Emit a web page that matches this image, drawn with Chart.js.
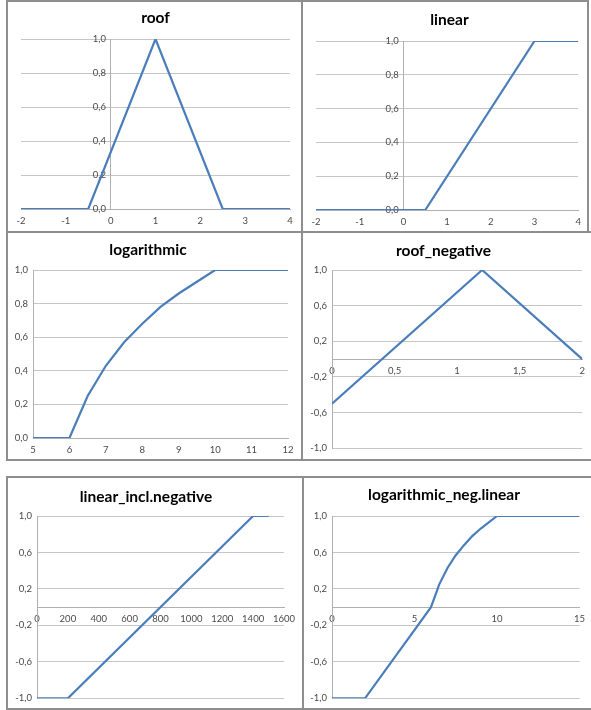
<!DOCTYPE html>
<html>
<head>
<meta charset="utf-8">
<script src="https://cdn.jsdelivr.net/npm/chart.js@4.4.1/dist/chart.umd.min.js"></script>
<style>
html,body{margin:0;padding:0;background:#fff;width:591px;height:710px;overflow:hidden;position:relative;}
canvas{position:absolute;display:block;}
.ln{position:absolute;background:#8e8e8e;}
</style>
</head>
<body>
<canvas id="c1" width="292" height="231" style="left:8px;top:1px"></canvas>
<canvas id="c2" width="283" height="231" style="left:304px;top:1px"></canvas>
<canvas id="c3" width="294" height="226" style="left:8px;top:233px"></canvas>
<canvas id="c4" width="287" height="226" style="left:304px;top:233px"></canvas>
<canvas id="c5" width="295" height="231" style="left:8px;top:478px"></canvas>
<canvas id="c6" width="287" height="231" style="left:304px;top:478px"></canvas>

<div class="ln" style="left:6px;top:0;width:2px;height:461px"></div>
<div class="ln" style="left:6px;top:477px;width:2px;height:233px"></div>
<div class="ln" style="left:301px;top:0;width:2px;height:461px"></div>
<div class="ln" style="left:302px;top:477px;width:2px;height:233px"></div>
<div class="ln" style="left:587px;top:0;width:1.5px;height:233px"></div>
<div class="ln" style="left:6px;top:0;width:583px;height:1.5px"></div>
<div class="ln" style="left:6px;top:231px;width:585px;height:1.5px"></div>
<div class="ln" style="left:6px;top:459px;width:585px;height:1.5px"></div>
<div class="ln" style="left:6px;top:476px;width:585px;height:1.5px"></div>
<div class="ln" style="left:6px;top:708px;width:585px;height:2px"></div>

<script>
// ---- data ----
const roofX = [-2, -0.5, 1, 2.5, 4];
const roofY = [0, 0, 1, 0, 0];

const linearX = [-2, 0.5, 3, 4];
const linearY = [0, 0, 1, 1];

const logX = [5, 6, 6.5, 7, 7.5, 8, 8.5, 9, 9.5, 10, 11, 12];
const logY = [0, 0, 0.25, 0.43, 0.57, 0.68, 0.78, 0.86, 0.93, 1, 1, 1];

const roofNegX = [0, 1.2, 2];
const roofNegY = [-0.5, 1, 0];

const linNegX = [0, 200, 1400, 1500];
const linNegY = [-1, -1, 1, 1];

const logNegX = [0, 2, 6, 6.5, 7, 7.5, 8, 8.5, 9, 9.5, 10, 15];
const logNegY = [-1, -1, 0, 0.25, 0.43, 0.57, 0.68, 0.78, 0.86, 0.93, 1, 1];

// ---- tick labels ----
const ticksX1 = [-2, -1, 0, 1, 2, 3, 4];
const ticksY01 = [0, 0.2, 0.4, 0.6, 0.8, 1];
const ticksX3 = [5, 6, 7, 8, 9, 10, 11, 12];
const ticksX4 = [0, 0.5, 1, 1.5, 2];
const ticksYneg = [-1, -0.6, -0.2, 0.2, 0.6, 1];
const ticksX5 = [0, 200, 400, 600, 800, 1000, 1200, 1400, 1600];
const ticksX6 = [0, 5, 10, 15];

const titles = ['roof', 'linear', 'logarithmic', 'roof_negative', 'linear_incl.negative', 'logarithmic_neg.linear'];

// ---- styles ----
const LINE = '#4a7ebb';
const GRID = '#c6c6c6';
const AXIS = '#b0b0b0';
const TICKC = '#4a4a4a';
const TICKFONT = {family: 'Lato, "Liberation Sans", sans-serif', size: 9.5};
const TITLEFONT = {family: 'Lato, "Liberation Sans", sans-serif', size: 15.5, weight: 'bold', lineHeight: 1.2};

const fmtY = v => v.toFixed(1).replace('.', ',');
const fmtX = v => String(Math.round(v * 100) / 100).replace('.', ',');

function pts(xs, ys) { return xs.map((x, i) => ({x: x, y: ys[i]})); }
function setTicks(arr) { return function (s) { s.ticks = arr.map(v => ({value: v})); }; }

// mode 'A': y axis at x=0, x axis bottom; 'B': both normal; 'C': y left, x axis at y=0
function make(id, o) {
  const cv = document.getElementById(id);
  const W = cv.width, H = cv.height;
  const th = TITLEFONT.size * TITLEFONT.lineHeight;
  const xScale = {
    type: 'linear', min: o.xMin, max: o.xMax,
    afterBuildTicks: setTicks(o.xt),
    grid: {display: false, drawTicks: false},
    border: {display: true, color: AXIS, width: 1},
    ticks: {font: TICKFONT, color: TICKC, padding: 6, maxRotation: 0, autoSkip: false, callback: v => fmtX(v)}
  };
  const yScale = {
    type: 'linear', min: o.yMin, max: o.yMax,
    afterBuildTicks: setTicks(o.yt),
    grid: {display: true, color: GRID, lineWidth: 1, drawTicks: false},
    border: {display: true, color: AXIS, width: 1},
    ticks: {font: TICKFONT, color: TICKC, padding: 5, autoSkip: false, callback: v => fmtY(v)}
  };
  let pad = {left: 0, right: W - o.r, top: 0, bottom: 0};
  if (o.mode === 'A') {
    yScale.position = {x: 0};
    yScale.ticks.callback = v => fmtY(v) + '\u2002';
    xScale.position = 'bottom';
    xScale.afterFit = s => { s.height = H - o.b; };
    pad.left = o.l;
  } else if (o.mode === 'B') {
    yScale.position = 'left';
    yScale.afterFit = s => { s.width = o.l; };
    xScale.position = 'bottom';
    xScale.afterFit = s => { s.height = H - o.b; };
  } else {
    yScale.position = 'left';
    yScale.afterFit = s => { s.width = o.l; };
    xScale.position = {y: 0};
    pad.bottom = H - o.b;
  }
  new Chart(cv, {
    type: 'line',
    data: {datasets: [{data: pts(o.xs, o.ys), borderColor: LINE, borderWidth: 2.2, pointRadius: 0, tension: 0, fill: false}]},
    options: {
      responsive: false, animation: false, devicePixelRatio: 1,
      layout: {padding: pad},
      plugins: {
        legend: {display: false}, tooltip: {enabled: false},
        title: {display: true, text: o.title, color: '#000', font: TITLEFONT,
                padding: {top: o.tc - th / 2, bottom: o.t - o.tc - th / 2}}
      },
      scales: {x: xScale, y: yScale}
    }
  });
}

make('c1', {title: titles[0], xs: roofX, ys: roofY, xMin: -2, xMax: 4, yMin: 0, yMax: 1, xt: ticksX1, yt: ticksY01,
  mode: 'A', l: 13, r: 282, t: 38, b: 208, tc: 17});
make('c2', {title: titles[1], xs: linearX, ys: linearY, xMin: -2, xMax: 4, yMin: 0, yMax: 1, xt: ticksX1, yt: ticksY01,
  mode: 'A', l: 12, r: 279, t: 40, b: 209, tc: 19});
make('c3', {title: titles[2], xs: logX, ys: logY, xMin: 5, xMax: 12, yMin: 0, yMax: 1, xt: ticksX3, yt: ticksY01,
  mode: 'B', l: 25, r: 280, t: 37, b: 205, tc: 17});
make('c4', {title: titles[3], xs: roofNegX, ys: roofNegY, xMin: 0, xMax: 2, yMin: -1, yMax: 1, xt: ticksX4, yt: ticksYneg,
  mode: 'C', l: 28, r: 279, t: 37, b: 216, tc: 18});
make('c5', {title: titles[4], xs: linNegX, ys: linNegY, xMin: 0, xMax: 1600, yMin: -1, yMax: 1, xt: ticksX5, yt: ticksYneg,
  mode: 'C', l: 29, r: 276, t: 38, b: 221, tc: 19});
make('c6', {title: titles[5], xs: logNegX, ys: logNegY, xMin: 0, xMax: 15, yMin: -1, yMax: 1, xt: ticksX6, yt: ticksYneg,
  mode: 'C', l: 28, r: 280, t: 38, b: 221, tc: 17});
</script>
</body>
</html>
